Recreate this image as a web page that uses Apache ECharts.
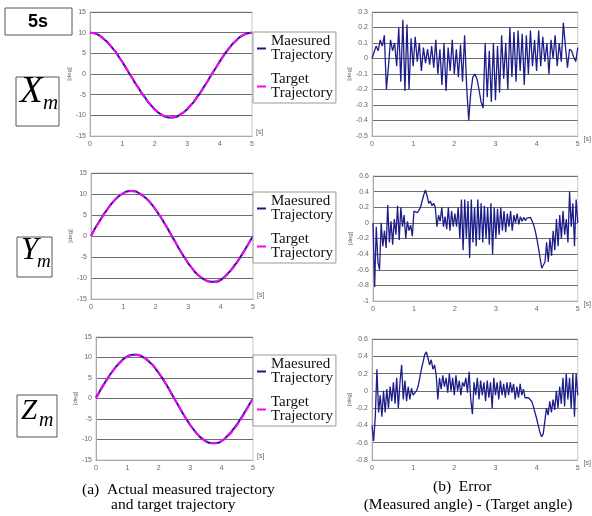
<!DOCTYPE html>
<html><head><meta charset="utf-8">
<script src="https://cdn.jsdelivr.net/npm/echarts@6/dist/echarts.min.js"></script>
<style>html,body{margin:0;padding:0;background:#fff}#c{width:592px;height:516px}</style>
</head><body><div id="c"></div>
<script>
// ---- data (time span 0..5 s, evenly sampled) ----
const xTarget = [10.0,9.92,9.68,9.28,8.73,8.04,7.22,6.28,5.24,4.12,2.92,1.67,0.40,-0.90,-2.17,-3.42,-4.62,-5.74,-6.78,-7.72,-8.54,-9.23,-9.78,-10.18,-10.42,-10.5,-10.42,-10.18,-9.78,-9.23,-8.54,-7.72,-6.78,-5.74,-4.62,-3.42,-2.17,-0.90,0.40,1.67,2.92,4.12,5.24,6.28,7.22,8.04,8.73,9.28,9.68,9.92,10.0];
const xMeasured = [10.0,9.95,9.7,9.3,8.6,8.0,7.1,6.2,5.3,4.0,2.9,1.6,0.3,-0.9,-2.3,-3.4,-4.7,-5.7,-6.9,-7.7,-8.6,-9.3,-9.8,-10.3,-10.5,-10.5,-10.5,-10.3,-9.7,-9.2,-8.5,-7.6,-6.8,-5.6,-4.6,-3.3,-2.1,-0.8,0.5,1.7,3.0,4.2,5.3,6.3,7.3,8.0,8.8,9.3,9.7,9.9,10.0];
const yTarget = [0,1.34,2.66,3.94,5.16,6.29,7.33,8.25,9.03,9.68,10.18,10.51,10.68,10.68,10.51,10.18,9.68,9.03,8.25,7.33,6.29,5.16,3.94,2.66,1.34,0,-1.36,-2.71,-4.01,-5.25,-6.41,-7.47,-8.40,-9.20,-9.86,-10.37,-10.70,-10.88,-10.88,-10.70,-10.37,-9.86,-9.20,-8.40,-7.47,-6.41,-5.25,-4.01,-2.71,-1.36,0];
const yMeasured = [0,1.5,2.8,4.0,5.3,6.3,7.4,8.3,9.1,9.7,10.2,10.6,10.7,10.7,10.6,10.1,9.6,9.0,8.2,7.3,6.2,5.1,3.9,2.6,1.3,-0.1,-1.4,-2.8,-4.1,-5.3,-6.5,-7.5,-8.5,-9.3,-9.9,-10.4,-10.8,-10.9,-10.9,-10.9,-10.5,-9.9,-9.1,-8.3,-7.3,-6.3,-5.1,-3.9,-2.6,-1.3,0];
const zTarget = [0,1.34,2.66,3.94,5.16,6.29,7.33,8.25,9.03,9.68,10.18,10.51,10.68,10.68,10.51,10.18,9.68,9.03,8.25,7.33,6.29,5.16,3.94,2.66,1.34,0,-1.36,-2.71,-4.01,-5.25,-6.41,-7.47,-8.40,-9.20,-9.86,-10.37,-10.70,-10.88,-10.88,-10.70,-10.37,-9.86,-9.20,-8.40,-7.47,-6.41,-5.25,-4.01,-2.71,-1.36,0];
const zMeasured = [0.3,1.5,2.9,4.1,5.3,6.4,7.4,8.3,9.1,9.8,10.3,10.6,10.7,10.7,10.5,10.1,9.6,8.9,8.2,7.2,6.2,5.1,3.9,2.6,1.2,-0.1,-1.4,-2.8,-4.1,-5.3,-6.5,-7.5,-8.5,-9.3,-9.9,-10.5,-10.8,-10.9,-10.9,-10.8,-10.4,-9.8,-9.0,-8.2,-7.2,-6.2,-5.0,-3.8,-2.5,-1.2,0];
const xError = [0,0.04,0.08,0.05,0.12,0.08,0.15,-0.2,-0.05,0.12,0.05,0.1,-0.05,0.2,-0.15,0.25,-0.21,0.22,-0.2,0.13,-0.05,0.14,-0.02,0.1,-0.08,0.07,-0.03,0.06,-0.04,0.08,-0.06,0.12,-0.1,0.06,-0.17,0.1,-0.21,0.07,-0.08,0.12,-0.1,0.06,-0.12,0.09,-0.15,0.15,-0.18,-0.4,-0.22,-0.12,-0.1,-0.13,-0.2,-0.28,-0.32,0.1,-0.25,0.05,-0.28,0.1,-0.27,0.08,-0.22,0.15,-0.13,0.1,-0.2,0.2,-0.12,0.17,-0.15,0.18,-0.08,0.16,-0.17,0.15,-0.1,0.18,-0.05,0.12,-0.08,0.18,-0.05,0.14,-0.02,0.1,-0.1,0.12,0.0,0.15,-0.05,0.1,-0.02,0.23,0.08,-0.06,0.06,0.05,0.01,-0.02,0.07];
const yError = [0,-0.82,-0.05,-0.5,-0.6,0.0,-0.3,-0.1,-0.32,0.23,-0.25,0.02,-0.28,0.05,-0.15,0.22,-0.22,0.2,-0.05,0.1,-0.2,0.02,-0.1,-0.03,-0.17,0.15,0.14,0.13,0.16,0.2,0.28,0.36,0.42,0.35,0.25,0.28,0.22,0.25,0.2,-0.05,0.1,0.02,0.2,-0.05,0.08,-0.08,0.2,-0.1,0.15,-0.05,0.12,-0.05,0.2,-0.2,0.3,-0.35,0.3,-0.2,0.28,-0.45,0.3,-0.25,0.2,-0.3,0.3,-0.22,0.25,-0.25,0.22,-0.2,0.2,-0.28,0.25,-0.4,0.2,-0.2,0.18,-0.15,0.2,-0.1,0.15,-0.12,0.12,-0.05,0.15,-0.1,0.1,0.0,0.12,-0.02,0.08,0.02,0.07,0.03,0.06,0.04,0.07,0.03,-0.02,-0.1,-0.2,-0.32,-0.45,-0.58,-0.6,-0.5,-0.25,-0.5,-0.2,-0.42,-0.1,-0.35,0.05,-0.3,0.1,-0.2,0.15,-0.15,0.05,-0.25,0.4,-0.05,0.25,-0.3,0.3,0.0];
const zError = [-0.4,-0.58,-0.3,0.25,-0.25,-0.05,-0.3,0.0,-0.25,0.02,-0.2,0.05,-0.12,0.1,-0.15,0.15,-0.2,0.1,0.3,-0.1,0.12,-0.12,0.05,-0.1,0.03,-0.05,-0.03,0.0,0.05,0.15,0.25,0.33,0.42,0.45,0.38,0.3,0.36,0.25,0.3,0.18,-0.1,0.15,0.02,0.18,0.05,0.15,-0.02,0.2,0.0,0.15,-0.05,0.18,0.0,0.12,-0.05,0.1,0.05,0.15,-0.02,0.22,-0.1,-0.27,0.1,-0.05,0.15,-0.1,0.12,-0.05,0.1,-0.12,0.12,-0.08,0.1,-0.2,0.15,-0.05,0.1,-0.1,0.12,-0.05,0.08,-0.08,0.1,-0.05,0.1,-0.02,0.08,-0.1,0.05,-0.08,0.08,-0.05,0.02,-0.08,-0.06,-0.08,-0.1,-0.12,-0.18,-0.25,-0.32,-0.4,-0.48,-0.53,-0.5,-0.35,-0.2,-0.28,-0.12,-0.25,-0.1,-0.22,0.0,-0.2,0.05,-0.15,0.15,-0.18,0.2,-0.1,0.15,-0.2,0.2,-0.3,0.2,-0.05];
const xTicks = [0,1,2,3,4,5];
const seriesNames = ['Maesured\nTrajectory','Target\nTrajectory'];

function pts(arr){ const dt = 5/(arr.length-1); return arr.map((v,i)=>[+(i*dt).toFixed(4), v]); }

const chart = echarts.init(document.getElementById('c'), null, {renderer:'canvas'});
const gridDefs = [
  {left:90, top:12, width:162, height:124},
  {left:372, top:12, width:208, height:124},
  {left:91, top:173, width:162, height:126},
  {left:373, top:176, width:206, height:125},
  {left:96, top:337, width:157, height:123},
  {left:372, top:339, width:209, height:121}
];
const yRanges = [
  {min:-15,max:15,interval:5},{min:-0.5,max:0.3,interval:0.1},
  {min:-15,max:15,interval:5},{min:-1,max:0.6,interval:0.2},
  {min:-15,max:15,interval:5},{min:-0.8,max:0.6,interval:0.2}
];
const lab = {fontSize:7, color:'#666', fontFamily:'Liberation Sans'};
const grids = gridDefs.map(g=>Object.assign({show:true, borderColor:'#c8c8c8', borderWidth:1, backgroundColor:'#fff'}, g));
const xAxes = gridDefs.map((g,i)=>({
  type:'value', gridIndex:i, min:0, max:5, interval:1,
  axisLine:{show:true, onZero:false, lineStyle:{color:'#aaa'}},
  axisTick:{show:false}, splitLine:{show:false},
  axisLabel:Object.assign({margin:5, formatter:v=>xTicks.includes(v)?String(v):''}, lab),
  name:'[s]', nameLocation:'end', nameGap:4,
  nameTextStyle:Object.assign({}, lab, {verticalAlign: i%2===0 ? 'bottom' : 'top', fontSize:7})
}));
const yAxes = gridDefs.map((g,i)=>Object.assign({
  type:'value', gridIndex:i,
  axisLine:{show:true, lineStyle:{color:'#aaa'}},
  axisTick:{show:false},
  splitLine:{show:true, lineStyle:{color:'#6e6e6e', width:1}},
  axisLabel:Object.assign({margin:4}, lab),
  name:'[deg]', nameLocation:'middle', nameRotate:90, nameGap: i%2===0 ? 12 : 17,
  nameTextStyle:Object.assign({}, lab, {fontSize:6})
}, yRanges[i]));

const traj = [[xMeasured,xTarget],[yMeasured,yTarget],[zMeasured,zTarget]];
const errs = [xError,yError,zError];
const series = [];
traj.forEach((pair,k)=>{
  series.push({type:'line', name:seriesNames[0], xAxisIndex:2*k, yAxisIndex:2*k, data:pts(pair[0]), showSymbol:false,
    lineStyle:{color:'#1a1a80', width:2}, itemStyle:{color:'#1a1a80'}});
  series.push({type:'line', name:seriesNames[1], xAxisIndex:2*k, yAxisIndex:2*k, data:pts(pair[1]), showSymbol:false,
    lineStyle:{color:'#ff00ff', width:2, type:[7,3]}, itemStyle:{color:'#ff00ff'}});
});
errs.forEach((e,k)=>{
  series.push({type:'line', name:'err'+k, xAxisIndex:2*k+1, yAxisIndex:2*k+1, data:pts(e), showSymbol:false,
    lineStyle:{color:'#1e1e8a', width:1.3}});
});

const legendTops = [32, 192, 355];
const legends = legendTops.map(t=>({
  data:seriesNames, orient:'vertical', left:253, top:t, icon:'rect', itemWidth:9, itemHeight:2, itemGap:9,
  padding:[2,3,2,4], borderColor:'#999', borderWidth:1, backgroundColor:'#fff',
  textStyle:{fontFamily:'Liberation Serif', fontSize:15, color:'#111', lineHeight:14}
}));

function box(x,y,w,h){ return {type:'rect', shape:{x,y,width:w,height:h}, style:{fill:'#fff', stroke:'#555', lineWidth:1}}; }
function txt(x,y,s,font,align,va){ return {type:'text', x, y, style:{text:s, font, fill:'#000', align:align||'left', verticalAlign:va||'bottom'}}; }
const capFont = '15.5px "Liberation Serif"';
const graphics = [
  box(5,8,67,27), txt(38,22,'5s','bold 18px "Liberation Sans"','center','middle'),
  box(16,77,43,49), txt(20,111,'X','italic 37px "Liberation Serif"'), txt(43,114,'m','italic 21px "Liberation Serif"'),
  box(17,237,35,40), txt(21,266,'Y','italic 31px "Liberation Serif"'), txt(37,271,'m','italic 19px "Liberation Serif"'),
  box(17,395,40,42), txt(21,426,'Z','italic 29px "Liberation Serif"'), txt(39,431,'m','italic 20px "Liberation Serif"'),
  txt(82,490,'(a)  Actual measured trajectory',capFont,'left','middle'),
  txt(111,505,'and target trajectory',capFont,'left','middle'),
  txt(433,487,'(b)  Error',capFont,'left','middle'),
  txt(468,505,'(Measured angle) - (Target angle)',capFont,'center','middle')
];

chart.setOption({
  animation:false, backgroundColor:'#fff',
  grid:grids, xAxis:xAxes, yAxis:yAxes, series, legend:legends, graphic:graphics
});
</script></body></html>
